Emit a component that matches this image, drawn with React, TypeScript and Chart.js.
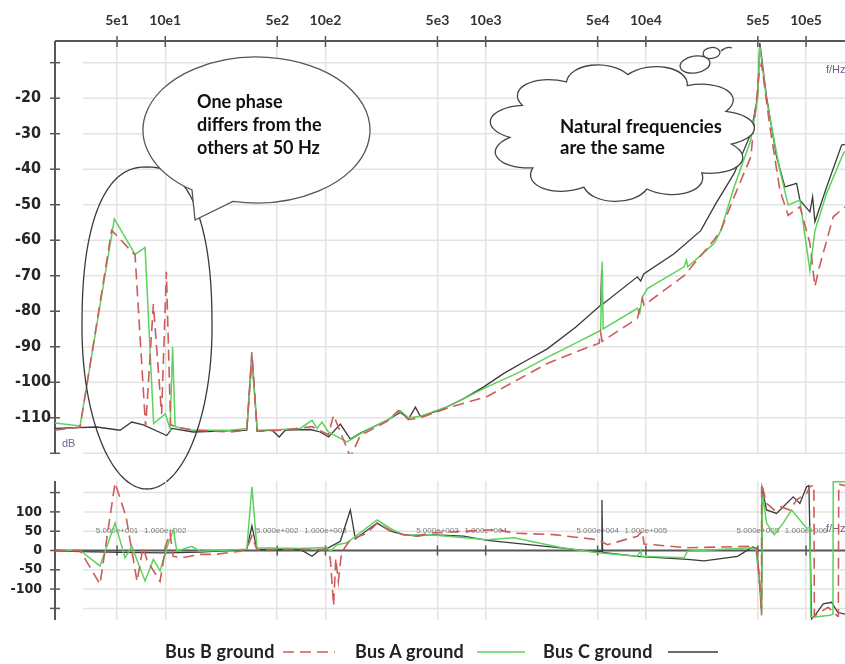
import React, { useEffect, useRef } from 'react';
import { Chart, registerables } from 'chart.js';

Chart.register(...registerables);

// ---- frequency axis (shared by both panels) ----
const freqMin = 20.5;
const freqMax = 1.75e6;
const freqTicks = [50, 100, 500, 1000, 5000, 10000, 50000, 100000, 500000, 1000000];
const freqTickLabels = ['5e1', '10e1', '5e2', '10e2', '5e3', '10e3', '5e4', '10e4', '5e5', '10e5'];
const freqValueLabels = [
  '5.000e+001', '1.000e+002', '5.000e+002', '1.000e+003', '5.000e+003',
  '1.000e+004', '5.000e+004', '1.000e+005', '5.000e+005', '1.000e+006',
];
const gridStartFreq = 30.7;

// ---- magnitude axis (dB) ----
const magMin = -120.2;
const magMax = -3.9;
const magTicks = [-120, -110, -100, -90, -80, -70, -60, -50, -40, -30, -20, -10];
const magLabelled = [-110, -100, -90, -80, -70, -60, -50, -40, -30, -20];

// ---- phase axis (degrees) ----
const phaseMin = -180;
const phaseMax = 180;
const phaseTicks = [-150, -100, -50, 0, 50, 100, 150];
const phaseLabelled = [-100, -50, 0, 50, 100];

const seriesLabels = ['Bus B ground', 'Bus A ground', 'Bus C ground'];

// ---- magnitude curves: [frequency Hz, dB] ----
const busBMag: [number, number][] = [
  [20.5, -113.5], [29.4, -112.6], [46.3, -57.2], [64.8, -64.2], [75.4, -112.6], [84.3, -78],
  [94.9, -108.9], [101.6, -68.9], [108, -112], [123.8, -112.8], [149.3, -113.5], [254, -114],
  [323, -113.5], [347, -91.5], [375, -113.8], [522, -113.5], [824, -112.5], [1042, -114.8],
  [1124, -109.3], [1430, -121], [1651, -115], [2424, -111], [2852, -108], [3294, -110.5],
  [3914, -110], [6029, -107], [10222, -104], [24245, -94.7], [36430, -91.5], [51100, -89],
  [52210, -86], [53350, -88.5], [88500, -82], [95150, -76.4], [97370, -78.3], [173170, -70],
  [265500, -60], [293600, -57.3], [355600, -47.8], [452000, -36.5], [509500, -13], [527300, -10.2],
  [594300, -28], [686200, -45.9], [773500, -53], [915300, -50.6], [1057000, -60.9], [1136000, -73],
  [1203000, -68], [1478000, -53.4], [1748000, -50.6],
];
const busAMag: [number, number][] = [
  [20.5, -111.5], [29.4, -112.3], [48.1, -54], [64.8, -64], [74.8, -62], [84.6, -111.6],
  [100, -108.9], [107.2, -113], [111.1, -90], [115.2, -112.5], [149.3, -113.5], [254, -113.5],
  [323, -113], [349, -93], [375, -113.5], [522, -113.3], [696, -113], [824, -110.7], [885, -113],
  [951, -111.2], [1042, -114], [1363, -116.8], [1651, -114.5], [2424, -110.7], [2936, -108],
  [3294, -110], [3914, -109.6], [6029, -106.5], [10222, -101.3], [16510, -97], [24245, -93],
  [36430, -89], [52210, -85.4], [53350, -66], [54120, -85], [88500, -79.2], [91500, -80.5],
  [95150, -76], [102230, -73.6], [173170, -67.5], [179250, -65.6], [182640, -67.5], [266700, -60.9],
  [293600, -57.3], [355600, -45], [452000, -31.8], [497900, -20], [514600, -5.5], [566700, -20.5],
  [686200, -40.3], [773500, -50.1], [915300, -48.7], [1057000, -68.5], [1136000, -57.3],
  [1344000, -46.8], [1707000, -35.6], [1748000, -35],
];
const busCMag: [number, number][] = [
  [20.5, -113], [37.3, -112.6], [52.2, -113.5], [61.8, -111.2], [73, -112], [102.2, -115],
  [109.9, -113], [149.3, -114], [323, -113.5], [347, -92.5], [375, -113.8], [465, -113.5],
  [514.5, -115.4], [561, -113.5], [804, -113.3], [928, -114], [1046, -115.4], [1238, -111.8],
  [1430, -116], [1651, -114.3], [2424, -110.7], [2936, -108.5], [3308, -110.2], [3643, -107],
  [3914, -109.6], [5220, -107.8], [7302, -104.6], [9736, -101.3], [12985, -97.5], [17744, -94],
  [24245, -90.6], [36430, -84.5], [52210, -78.3], [52970, -68.5], [53730, -78], [88500, -70.3],
  [92840, -71.5], [96940, -69.5], [149950, -63.8], [220200, -57.3], [273300, -49.7], [355600, -41.2],
  [452000, -30], [497900, -19.6], [514600, -4.5], [566700, -19.6], [654400, -36.5], [737600, -45],
  [872800, -44], [915300, -48.7], [1057000, -52], [1099000, -47.8], [1136000, -54.8],
  [1344000, -45], [1668000, -33.2], [1748000, -33],
];

// ---- phase curves: [frequency Hz, degrees] ----
const busBPhase: [number, number][] = [
  [20.5, 0], [29.4, 0], [39.15, -87], [48.6, 175], [56.9, 88], [66.7, -80], [72.7, 10], [76.9, -25],
  [92.8, -80], [101.2, 15], [107.2, 45], [111.9, -15], [126.9, -19], [165.2, -10], [204.9, -10],
  [293.6, -2], [323, 5], [347.4, 38], [373.4, 2], [696, 3], [1022, 2], [1072, -20], [1124, -143],
  [1160, -20], [1203, -80], [1260, -5], [1430, 28], [1818, 45], [2100, 71], [2542, 52], [3080, 41],
  [3734, 38], [4519, 45], [7302, 50], [11810, 54], [14995, 45], [26670, 41], [49790, 28], [57490, 15],
  [88500, 37], [95150, 50], [97370, 17], [111940, 15], [181800, 7], [452000, 11], [492900, 5],
  [514600, -90], [527300, -168], [528000, 173], [566700, 122], [632300, 105], [686200, 114],
  [792500, 105], [872800, 131], [1008000, 148], [1057000, 165], [1119000, 170], [1127000, -170],
  [1221000, -160], [1375000, -147], [1574000, -170], [1590000, -170], [1600000, 172], [1748000, 168],
];
const busAPhase: [number, number][] = [
  [20.5, 0], [29.4, 0], [39.15, -40], [48.6, 71], [56.1, -19], [61.8, 11], [74.8, -79], [84.3, -23],
  [92.8, -53], [102.2, 7], [112.4, 54], [118.1, -2], [146.6, 11], [165.2, -2], [323, 3], [347.4, 165],
  [373.4, 7], [696, 5], [1022, 8], [1072, -2], [1181, 15], [1363, 20], [2100, 79], [2542, 57],
  [3080, 40], [4519, 41], [10222, 28], [14995, 33], [29360, 8], [49790, -6], [88500, -15],
  [92840, 0], [94000, -15], [173170, -19], [181800, -2], [452000, 7], [485900, 5], [514600, -91],
  [527300, -160], [535000, 148], [566700, 71], [632300, 41], [719600, 71], [812100, 105],
  [915300, 79], [1008000, 58], [1057000, 60], [1072000, -172], [1136000, -172], [1409000, -168],
  [1472000, -165], [1478000, 178], [1748000, 178],
];
const busCPhase: [number, number][] = [
  [20.5, 0], [29.4, -3], [52.2, -5], [102.2, -6], [165.2, -4], [323, 3], [347.4, 64], [373.4, 3],
  [696, 3], [824, -15], [928, 2], [1022, 5], [1238, 24], [1430, 105], [1537, 30], [2100, 71],
  [2542, 50], [3080, 41], [3734, 37], [4519, 41], [7302, 37], [10222, 26], [29360, 7], [49790, -4],
  [52600, -2], [53200, 131], [53730, -5], [88500, -15], [181800, -23], [230900, -27], [373400, -15],
  [463400, 9], [492900, 5], [527300, -151], [531900, 161], [566700, 105], [654400, 96], [831000, 139],
  [915300, 122], [1008000, 165], [1042000, 168], [1083000, -177], [1136000, -168], [1280000, -138],
  [1444000, -134], [1574000, -160], [1748000, -165],
];

// ---- styling ----
const GRID = '#e3e3e3';
const AXIS = '#575757';
const seriesStyles = [
  { color: '#cd5c5c', dash: [11, 6], width: 1.6 },
  { color: '#5cd35c', dash: [] as number[], width: 1.5 },
  { color: '#3a3a3a', dash: [] as number[], width: 1.3 },
];
const narrowFont = "'Liberation Sans Narrow', 'DejaVu Sans Condensed', 'Liberation Sans', sans-serif";

function makeDatasets(series: [number, number][][]) {
  return series.map((pts, i) => ({
    label: seriesLabels[i],
    data: pts.map(([x, y]) => ({ x, y })),
    borderColor: seriesStyles[i].color,
    borderDash: seriesStyles[i].dash,
    borderWidth: seriesStyles[i].width,
    pointRadius: 0,
    fill: false,
    tension: 0,
  }));
}

function seg(ctx: CanvasRenderingContext2D, x1: number, y1: number, x2: number, y2: number) {
  ctx.beginPath();
  ctx.moveTo(x1, y1);
  ctx.lineTo(x2, y2);
  ctx.stroke();
}

// oval ring: squarer upper half, elliptic lower half
function drawRing(ctx: CanvasRenderingContext2D, cx: number, cy: number, a: number, b: number, nTop: number, nBottom: number) {
  ctx.beginPath();
  const steps = 240;
  for (let i = 0; i <= steps; i++) {
    const t = (i / steps) * Math.PI * 2;
    const c = Math.cos(t);
    const s = Math.sin(t);
    const n = s < 0 ? nTop : nBottom;
    const px = cx + a * Math.sign(c) * Math.pow(Math.abs(c), 2 / n);
    const py = cy + b * Math.sign(s) * Math.pow(Math.abs(s), 2 / n);
    if (i === 0) ctx.moveTo(px, py);
    else ctx.lineTo(px, py);
  }
  ctx.closePath();
  ctx.stroke();
}

function drawCloud(ctx: CanvasRenderingContext2D, cx: number, cy: number, rx: number, ry: number, bumps: number, k: number) {
  ctx.beginPath();
  for (let i = 0; i <= bumps; i++) {
    const a = (i / bumps) * Math.PI * 2 + 0.2;
    const px = cx + rx * Math.cos(a);
    const py = cy + ry * Math.sin(a);
    if (i === 0) ctx.moveTo(px, py);
    else {
      const a1 = ((i - 0.75) / bumps) * Math.PI * 2 + 0.2;
      const a2 = ((i - 0.25) / bumps) * Math.PI * 2 + 0.2;
      ctx.bezierCurveTo(
        cx + rx * k * Math.cos(a1), cy + ry * k * Math.sin(a1),
        cx + rx * k * Math.cos(a2), cy + ry * k * Math.sin(a2),
        px, py,
      );
    }
  }
  ctx.closePath();
  ctx.fillStyle = '#ffffff';
  ctx.fill();
  ctx.stroke();
}

const magnitudeFrame = {
  id: 'magnitudeFrame',
  beforeDatasetsDraw(chart: any) {
    const { ctx, chartArea: a, scales } = chart;
    const x = scales.x;
    const y = scales.y;
    ctx.save();
    const gx = x.getPixelForValue(gridStartFreq);
    ctx.strokeStyle = GRID;
    ctx.lineWidth = 1.5;
    magTicks.forEach((v) => {
      const py = y.getPixelForValue(v);
      seg(ctx, gx, py, a.right, py);
    });
    ctx.strokeStyle = AXIS;
    ctx.lineWidth = 2;
    seg(ctx, a.left, a.top, a.right, a.top);
    seg(ctx, a.left, a.top, a.left, a.bottom);
    ctx.lineWidth = 1.5;
    magTicks.forEach((v) => {
      const py = y.getPixelForValue(v);
      seg(ctx, a.left - 5, py, a.left + 5, py);
    });
    freqTicks.forEach((f) => {
      const px = x.getPixelForValue(f);
      seg(ctx, px, a.top - 5, px, a.top + 6);
    });
    ctx.fillStyle = '#6f6a92';
    ctx.font = '11px "Liberation Sans", sans-serif';
    ctx.textBaseline = 'middle';
    ctx.textAlign = 'left';
    ctx.fillText('dB', a.left + 7, y.getPixelForValue(-117.5));
    ctx.fillStyle = '#7a5a8a';
    ctx.fillText('f/Hz', a.right - 19, y.getPixelForValue(-12));
    ctx.restore();
  },
  afterDraw(chart: any) {
    const { ctx } = chart;
    ctx.save();
    ctx.strokeStyle = '#3a3a3a';
    ctx.lineWidth = 1.3;

    // ring around the low-frequency region
    drawRing(ctx, 147, 328, 65, 161, 2.4, 2.0);

    // speech bubble
    const cx = 256.5, cy = 130, rx = 113.5, ry = 73;
    const a0 = (102 * Math.PI) / 180;
    const a1 = (128.7 * Math.PI) / 180;
    ctx.beginPath();
    ctx.ellipse(cx, cy, rx, ry, 0, a0, a1, true);
    ctx.lineTo(192, 190);
    ctx.lineTo(195, 220);
    ctx.closePath();
    ctx.fillStyle = '#ffffff';
    ctx.fill();
    ctx.strokeStyle = '#555555';
    ctx.stroke();

    ctx.fillStyle = '#111111';
    ctx.font = 'bold 18px Lato, sans-serif';
    ctx.textAlign = 'left';
    ctx.textBaseline = 'middle';
    ['One phase', 'differs from the', 'others at 50 Hz'].forEach((t, i) => ctx.fillText(t, 197, 102 + i * 23));

    // thought cloud
    ctx.strokeStyle = '#444444';
    drawCloud(ctx, 621.5, 132.5, 112, 58, 11, 1.28);
    ctx.beginPath();
    ctx.ellipse(695, 64.5, 15, 8.5, -0.15, 0, Math.PI * 2);
    ctx.fillStyle = '#ffffff';
    ctx.fill();
    ctx.stroke();
    ctx.beginPath();
    ctx.ellipse(711.5, 53, 8.5, 5.5, -0.1, 0, Math.PI * 2);
    ctx.fill();
    ctx.stroke();
    ctx.beginPath();
    ctx.moveTo(721, 51);
    ctx.quadraticCurveTo(727, 46, 732, 48);
    ctx.stroke();

    ctx.fillStyle = '#111111';
    ctx.font = 'bold 18.5px Lato, sans-serif';
    ['Natural frequencies', 'are the same'].forEach((t, i) => ctx.fillText(t, 560, 127 + i * 21));
    ctx.restore();
  },
};

const phaseFrame = {
  id: 'phaseFrame',
  beforeDatasetsDraw(chart: any) {
    const { ctx, chartArea: a, scales } = chart;
    const x = scales.x;
    const y = scales.y;
    ctx.save();
    const gx = x.getPixelForValue(gridStartFreq);
    ctx.strokeStyle = GRID;
    ctx.lineWidth = 1.5;
    phaseTicks.filter((v) => v !== 0).forEach((v) => {
      const py = y.getPixelForValue(v);
      seg(ctx, gx, py, a.right, py);
    });
    const zy = y.getPixelForValue(0);
    ctx.strokeStyle = AXIS;
    ctx.lineWidth = 2;
    seg(ctx, a.left, zy, a.right, zy);
    seg(ctx, a.left, a.top, a.left, a.bottom);
    ctx.lineWidth = 1.5;
    phaseTicks.forEach((v) => {
      const py = y.getPixelForValue(v);
      seg(ctx, a.left - 5, py, a.left + 5, py);
    });
    freqTicks.forEach((f) => {
      const px = x.getPixelForValue(f);
      seg(ctx, px, zy - 5, px, zy + 5);
    });
    ctx.fillStyle = '#7a7a7a';
    ctx.font = '8px "Liberation Sans", sans-serif';
    ctx.textAlign = 'center';
    ctx.textBaseline = 'middle';
    const ly = y.getPixelForValue(50);
    freqTicks.forEach((f, i) => ctx.fillText(freqValueLabels[i], x.getPixelForValue(f), ly));
    ctx.fillStyle = '#7a5a8a';
    ctx.font = '11px "Liberation Sans", sans-serif';
    ctx.textAlign = 'left';
    ctx.fillText('f/Hz', a.right - 19, ly - 2);
    ctx.restore();
  },
};

function freqAxis(position: 'top' | 'bottom', showLabels: boolean, height: number) {
  return {
    type: 'logarithmic',
    position,
    min: freqMin,
    max: freqMax,
    afterBuildTicks: (s: any) => {
      s.ticks = freqTicks.map((v) => ({ value: v }));
    },
    afterFit: (s: any) => {
      s.height = height;
    },
    ticks: {
      display: showLabels,
      autoSkip: false,
      maxRotation: 0,
      padding: 12,
      color: '#333333',
      font: { family: 'Lato, sans-serif', weight: 'bold', size: 14 },
      callback: (v: any) => freqTickLabels[freqTicks.indexOf(Number(v))] ?? '',
    },
    grid: { color: GRID, lineWidth: 1.5, drawTicks: false },
    border: { display: false },
  };
}

export default function App() {
  const magRef = useRef<HTMLCanvasElement>(null);
  const phaseRef = useRef<HTMLCanvasElement>(null);

  useEffect(() => {
    document.body.style.margin = '0';
    const common = {
      animation: false,
      responsive: false,
      devicePixelRatio: 1,
      events: [],
    };
    const magChart = new Chart(magRef.current as HTMLCanvasElement, {
      type: 'line',
      data: { datasets: makeDatasets([busBMag, busAMag, busCMag]) as any },
      options: {
        ...common,
        layout: { padding: { left: 15, right: 0, top: 0, bottom: 664 - 454 } },
        plugins: { legend: { display: false }, tooltip: { enabled: false } },
        scales: {
          x: freqAxis('top', true, 41) as any,
          y: {
            type: 'linear',
            min: magMin,
            max: magMax,
            afterBuildTicks: (s: any) => {
              s.ticks = magTicks.map((v) => ({ value: v }));
            },
            afterFit: (s: any) => {
              s.width = 40;
            },
            ticks: {
              crossAlign: 'far',
              color: '#262626',
              font: { family: narrowFont, weight: 'bold', size: 16 },
              callback: (v: any) => (magLabelled.includes(Number(v)) ? String(v) : ''),
            },
            grid: { display: false, drawTicks: false },
            border: { display: false },
          } as any,
        },
      } as any,
      plugins: [magnitudeFrame],
    });

    const phaseChart = new Chart(phaseRef.current as HTMLCanvasElement, {
      type: 'line',
      data: { datasets: makeDatasets([busBPhase, busAPhase, busCPhase]) as any },
      options: {
        ...common,
        layout: { padding: { left: 0, right: 0, top: 22, bottom: 29 } },
        plugins: { legend: { display: false }, tooltip: { enabled: false } },
        scales: {
          x: freqAxis('bottom', false, 0) as any,
          y: {
            type: 'linear',
            min: phaseMin,
            max: phaseMax,
            afterBuildTicks: (s: any) => {
              s.ticks = phaseTicks.map((v) => ({ value: v }));
            },
            afterFit: (s: any) => {
              s.width = 55;
            },
            ticks: {
              padding: 13,
              color: '#262626',
              font: { family: narrowFont, weight: 'bold', size: 14 },
              callback: (v: any) => (phaseLabelled.includes(Number(v)) ? String(v) : ''),
            },
            grid: { display: false, drawTicks: false },
            border: { display: false },
          } as any,
        },
      } as any,
      plugins: [phaseFrame],
    });

    return () => {
      magChart.destroy();
      phaseChart.destroy();
    };
  }, []);

  const legendSlots = [
    { textLeft: 165, sampleLeft: 283, sampleWidth: 52 },
    { textLeft: 355, sampleLeft: 477, sampleWidth: 48 },
    { textLeft: 543, sampleLeft: 668, sampleWidth: 50 },
  ];

  return (
    <div style={{ position: 'absolute', left: 0, top: 0, width: 845, height: 664, background: '#ffffff', overflow: 'hidden' }}>
      <canvas ref={magRef} width={845} height={664} style={{ position: 'absolute', left: 0, top: 0 }} />
      <canvas ref={phaseRef} width={845} height={190} style={{ position: 'absolute', left: 0, top: 459 }} />
      {seriesLabels.map((label, i) => (
        <React.Fragment key={label}>
          <div
            style={{
              position: 'absolute',
              left: legendSlots[i].textLeft,
              top: 640,
              height: 22,
              lineHeight: '22px',
              font: 'bold 18px Lato, sans-serif',
              color: '#222222',
              whiteSpace: 'nowrap',
              letterSpacing: '0.2px',
            }}
          >
            {label}
          </div>
          <svg
            width={legendSlots[i].sampleWidth}
            height={4}
            style={{ position: 'absolute', left: legendSlots[i].sampleLeft, top: 650 }}
          >
            <line
              x1={0}
              y1={2}
              x2={legendSlots[i].sampleWidth}
              y2={2}
              stroke={seriesStyles[i].color}
              strokeWidth={1.6}
              strokeDasharray={seriesStyles[i].dash.length ? seriesStyles[i].dash.join(' ') : undefined}
            />
          </svg>
        </React.Fragment>
      ))}
    </div>
  );
}
